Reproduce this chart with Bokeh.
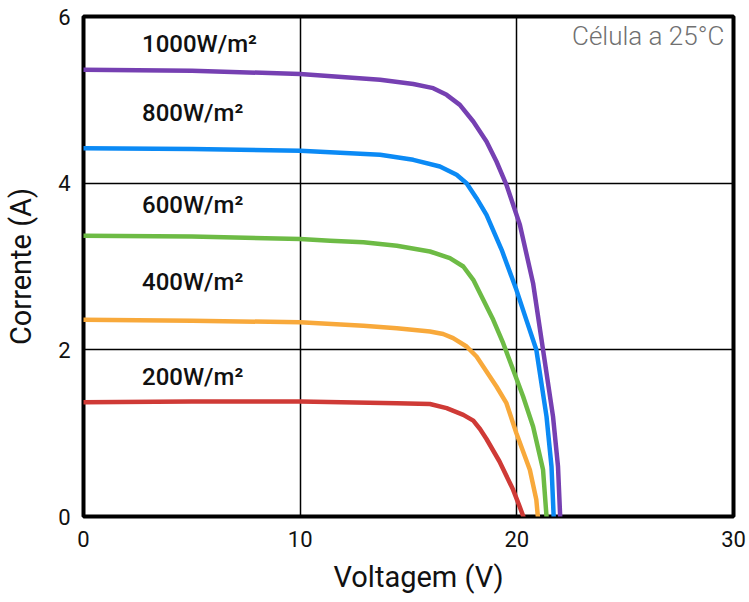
from bokeh.plotting import figure
from bokeh.models import Range1d, FixedTicker, ColumnDataSource, Title
from bokeh.core.properties import value
from bokeh.embed import file_html
from bokeh.resources import INLINE

# ---- data ----
v_1000 = [0, 5, 10, 13.69, 15.22, 16.14, 16.76, 17.37, 17.99, 18.6, 19.06, 19.52, 19.83, 20.14, 20.75, 21.21, 21.67, 21.9, 22.0]
i_1000 = [5.36, 5.35, 5.31, 5.24, 5.19, 5.14, 5.06, 4.94, 4.74, 4.50, 4.26, 3.98, 3.74, 3.50, 2.80, 2.00, 1.20, 0.60, 0.0]

v_800 = [0, 5, 10, 13.69, 15.22, 16.45, 17.22, 17.68, 18.14, 18.6, 19.3, 19.98, 20.45, 20.9, 21.37, 21.6, 21.7]
i_800 = [4.42, 4.41, 4.39, 4.34, 4.28, 4.20, 4.10, 4.0, 3.82, 3.62, 3.2, 2.72, 2.35, 2.0, 1.2, 0.6, 0.0]

v_600 = [0, 5, 10, 11.38, 12.92, 14.46, 15.99, 16.91, 17.53, 17.99, 18.45, 18.91, 19.37, 19.83, 20.29, 20.75, 21.21, 21.37]
i_600 = [3.37, 3.36, 3.33, 3.31, 3.29, 3.25, 3.18, 3.10, 3.0, 2.84, 2.60, 2.36, 2.08, 1.76, 1.44, 1.08, 0.56, 0.0]

v_400 = [0, 5, 10, 12.92, 14.46, 15.99, 16.6, 17.06, 17.68, 18.14, 18.6, 19.06, 19.52, 19.98, 20.6, 20.9, 20.97]
i_400 = [2.36, 2.35, 2.33, 2.29, 2.26, 2.22, 2.19, 2.14, 2.04, 1.92, 1.74, 1.56, 1.36, 1.0, 0.56, 0.2, 0.0]

v_200 = [0, 5, 10, 14.46, 15.99, 16.76, 17.53, 17.99, 18.3, 18.6, 19.2, 19.83, 20.1, 20.3]
i_200 = [1.37, 1.38, 1.38, 1.36, 1.35, 1.30, 1.22, 1.15, 1.05, 0.93, 0.66, 0.32, 0.14, 0.0]

series_names = ["1000W/m²", "800W/m²", "600W/m²", "400W/m²", "200W/m²"]
x_ticks = [0, 10, 20, 30]
y_ticks = [0, 2, 4, 6]
x_title = "Voltagem (V)"
y_title = "Corrente (A)"
note_text = "Célula a 25°C"

# ---- styling / layout ----
colors = ["#7640B2", "#0B8AF5", "#6DBB45", "#F8A93B", "#CF3A36"]
label_x = [2.7, 2.7, 2.7, 2.7, 2.7]
label_y = [5.67, 4.84, 3.74, 2.82, 1.68]

p = figure(width=749, height=602, output_backend="svg", toolbar_location=None,
           x_range=Range1d(0, 30), y_range=Range1d(0, 6),
           min_border_left=83, min_border_right=16, min_border_top=16, min_border_bottom=86)
p.background_fill_color = "white"
p.border_fill_color = "white"
p.outline_line_color = "black"
p.outline_line_width = 4

for ax in (p.xaxis[0], p.yaxis[0]):
    ax.axis_line_color = None
    ax.major_tick_line_color = None
    ax.minor_tick_line_color = None
    ax.major_label_text_font = "Roboto"
    ax.major_label_text_font_size = "22px"
    ax.major_label_text_color = "#111111"
    ax.axis_label_text_font = "Roboto"
    ax.axis_label_text_font_size = "29px"
    ax.axis_label_text_font_style = "normal"
    ax.axis_label_text_color = "#111111"

p.xaxis.ticker = FixedTicker(ticks=x_ticks)
p.yaxis.ticker = FixedTicker(ticks=y_ticks)
p.yaxis.axis_label = y_title
p.xaxis.major_label_standoff = 8
p.yaxis.major_label_standoff = 7
p.yaxis.axis_label_standoff = 17
p.yaxis.major_label_orientation = "horizontal"

xt = Title(text=x_title, align="left", offset=250, standoff=17,
           text_font="Roboto", text_font_size="29px", text_font_style="normal",
           text_color="#111111")
p.add_layout(xt, "below")

p.xgrid.grid_line_color = "black"
p.xgrid.grid_line_width = 1.5
p.ygrid.grid_line_color = "black"
p.ygrid.grid_line_width = 1.5

volts = [v_1000, v_800, v_600, v_400, v_200]
amps = [i_1000, i_800, i_600, i_400, i_200]
for vv, ii, c in zip(volts, amps, colors):
    p.line(vv, ii, line_color=c, line_width=4.5, line_join="round", line_cap="round")

src = ColumnDataSource(dict(x=label_x, y=label_y, t=series_names))
p.text(x="x", y="y", text="t", source=src, text_font=value("Roboto Medium"),
       text_font_size="24px", text_color="#111111", text_align="left", text_baseline="middle")

p.text(x=[29.58], y=[5.77], text=[note_text], text_font=value("Roboto Light"),
       text_font_size="26px", text_color="#707070", text_align="right", text_baseline="middle")

open("out.html", "w").write(file_html(p, INLINE))
